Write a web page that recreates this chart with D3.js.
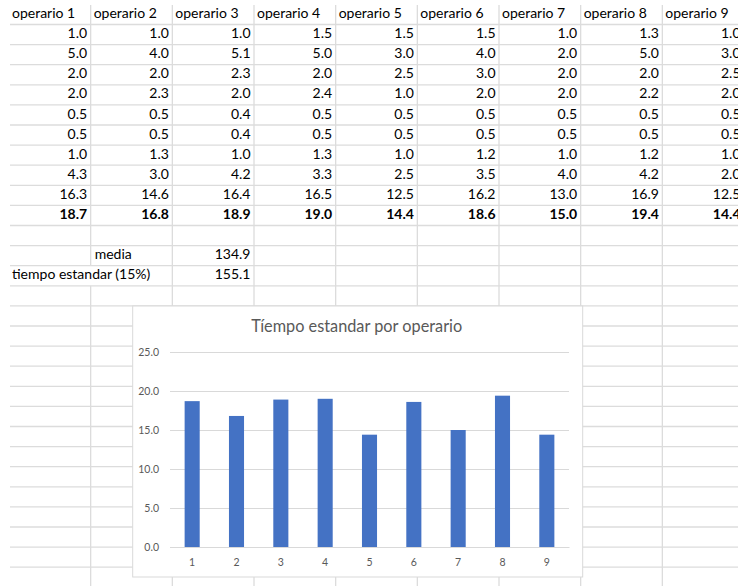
<!DOCTYPE html>
<html>
<head>
<meta charset="utf-8">
<script src="https://cdn.jsdelivr.net/npm/d3@7"></script>
<style>
  html, body { margin: 0; padding: 0; background: #fff; }
  svg { display: block; }
</style>
</head>
<body>
<div id="hoja"></div>
<script>
const operarios = ["operario 1", "operario 2", "operario 3", "operario 4", "operario 5",
  "operario 6", "operario 7", "operario 8", "operario 9"];

// one array per row of the sheet, one value per operario
const fila1 = [1.0, 1.0, 1.0, 1.5, 1.5, 1.5, 1.0, 1.3, 1.0];
const fila2 = [5.0, 4.0, 5.1, 5.0, 3.0, 4.0, 2.0, 5.0, 3.0];
const fila3 = [2.0, 2.0, 2.3, 2.0, 2.5, 3.0, 2.0, 2.0, 2.5];
const fila4 = [2.0, 2.3, 2.0, 2.4, 1.0, 2.0, 2.0, 2.2, 2.0];
const fila5 = [0.5, 0.5, 0.4, 0.5, 0.5, 0.5, 0.5, 0.5, 0.5];
const fila6 = [0.5, 0.5, 0.4, 0.5, 0.5, 0.5, 0.5, 0.5, 0.5];
const fila7 = [1.0, 1.3, 1.0, 1.3, 1.0, 1.2, 1.0, 1.2, 1.0];
const fila8 = [4.3, 3.0, 4.2, 3.3, 2.5, 3.5, 4.0, 4.2, 2.0];
const fila9 = [16.3, 14.6, 16.4, 16.5, 12.5, 16.2, 13.0, 16.9, 12.5];
const tiempoEstandar = [18.7, 16.8, 18.9, 19.0, 14.4, 18.6, 15.0, 19.4, 14.4];

const media = 134.9;
const tiempoEstandarTotal = 155.1;

const categorias = ["1", "2", "3", "4", "5", "6", "7", "8", "9"];
const yTicks = [0, 5, 10, 15, 20, 25];
const titulo = "Tíempo estandar por operario";

const width = 738;
const height = 586;
const gridColor = "#dcdcdc";
const textColor = "#000";
const mutedColor = "#595959";
const barColor = "#4472C4";
const font = "Lato, 'Open Sans', sans-serif";

const svg = d3.select("#hoja")
  .append("svg")
  .attr("width", width)
  .attr("height", height)
  .style("font-family", font);

// sheet geometry
const colEdge = d3.scaleLinear().domain([0, 9]).range([9, 744]);
const rowEdge = d3.scaleLinear().domain([0, 1]).range([24.5, 44.6]);
const nRows = 28;
const headerTop = 5;
const tiempoRow = 13; // row that holds the overflowing "tiempo estandar (15%)"

const grid = svg.append("g");

d3.range(0, nRows + 1).forEach(k => {
  grid.append("line")
    .attr("x1", 10).attr("x2", width)
    .attr("y1", rowEdge(k)).attr("y2", rowEdge(k))
    .attr("stroke", gridColor).attr("stroke-width", 1.3);
});

d3.range(1, 9).forEach(i => {
  const x = colEdge(i);
  if (i === 1) {
    grid.append("line")
      .attr("x1", x).attr("x2", x)
      .attr("y1", headerTop).attr("y2", rowEdge(tiempoRow - 1))
      .attr("stroke", gridColor).attr("stroke-width", 1.3);
    grid.append("line")
      .attr("x1", x).attr("x2", x)
      .attr("y1", rowEdge(tiempoRow)).attr("y2", height)
      .attr("stroke", gridColor).attr("stroke-width", 1.3);
  } else {
    grid.append("line")
      .attr("x1", x).attr("x2", x)
      .attr("y1", headerTop).attr("y2", height)
      .attr("stroke", gridColor).attr("stroke-width", 1.3);
  }
});

const cells = svg.append("g")
  .attr("font-size", "14px")
  .attr("fill", textColor);

const baseline = k => rowEdge(k) - 6.5;

// header
cells.selectAll(".head")
  .data(operarios)
  .join("text")
  .attr("x", (d, i) => colEdge(i) + 3)
  .attr("y", baseline(0))
  .text(d => d);

const filas = [fila1, fila2, fila3, fila4, fila5, fila6, fila7, fila8, fila9, tiempoEstandar];
filas.forEach((fila, r) => {
  cells.append("g")
    .selectAll("text")
    .data(fila)
    .join("text")
    .attr("x", (d, i) => colEdge(i + 1) - 3.5)
    .attr("y", baseline(r + 1))
    .attr("text-anchor", "end")
    .attr("font-weight", r === filas.length - 1 ? "bold" : null)
    .text(d => d.toFixed(1));
});

cells.append("text")
  .attr("x", colEdge(1) + 4)
  .attr("y", baseline(12))
  .text("media");
cells.append("text")
  .attr("x", colEdge(3) - 3.5)
  .attr("y", baseline(12))
  .attr("text-anchor", "end")
  .text(media.toFixed(1));
cells.append("text")
  .attr("x", colEdge(0) + 3)
  .attr("y", baseline(tiempoRow))
  .text("tiempo estandar (15%)");
cells.append("text")
  .attr("x", colEdge(3) - 3.5)
  .attr("y", baseline(tiempoRow))
  .attr("text-anchor", "end")
  .text(tiempoEstandarTotal.toFixed(1));

// chart object
const box = { x: 132.7, y: 306, w: 450, h: 271 };
const chart = svg.append("g");

chart.append("rect")
  .attr("x", box.x).attr("y", box.y)
  .attr("width", box.w).attr("height", box.h)
  .attr("fill", "#fff")
  .attr("stroke", "#d9d9d9")
  .attr("stroke-width", 1);

chart.append("text")
  .attr("x", box.x + box.w / 2 - 1)
  .attr("y", 332)
  .attr("text-anchor", "middle")
  .attr("font-size", "16.3px")
  .attr("fill", mutedColor)
  .text(titulo);

const x = d3.scaleBand()
  .domain(categorias)
  .range([170, 569])
  .paddingInner(0.66)
  .paddingOuter(0.33);

const y = d3.scaleLinear()
  .domain([0, 25])
  .range([547, 352]);

const yAxis = chart.append("g")
  .attr("transform", "translate(170,0)")
  .call(d3.axisLeft(y).tickValues(yTicks).tickSize(-399).tickFormat(d3.format(".1f")));
yAxis.select(".domain").remove();
yAxis.selectAll(".tick line").attr("stroke", "#d9d9d9").attr("stroke-width", 1);
yAxis.selectAll(".tick text")
  .attr("x", -11)
  .attr("fill", mutedColor)
  .attr("font-size", "10.5px")
  .attr("font-family", font);

chart.append("g")
  .selectAll("rect")
  .data(tiempoEstandar)
  .join("rect")
  .attr("x", (d, i) => x(categorias[i]))
  .attr("y", d => y(d))
  .attr("width", x.bandwidth())
  .attr("height", d => y(0) - y(d))
  .attr("fill", barColor);

const xAxis = chart.append("g")
  .attr("transform", "translate(0,547)")
  .call(d3.axisBottom(x).tickSize(0).tickPadding(12));
xAxis.select(".domain").attr("stroke", "#d9d9d9");
xAxis.selectAll(".tick text")
  .attr("fill", mutedColor)
  .attr("font-size", "10.5px")
  .attr("font-family", font);
</script>
</body>
</html>
